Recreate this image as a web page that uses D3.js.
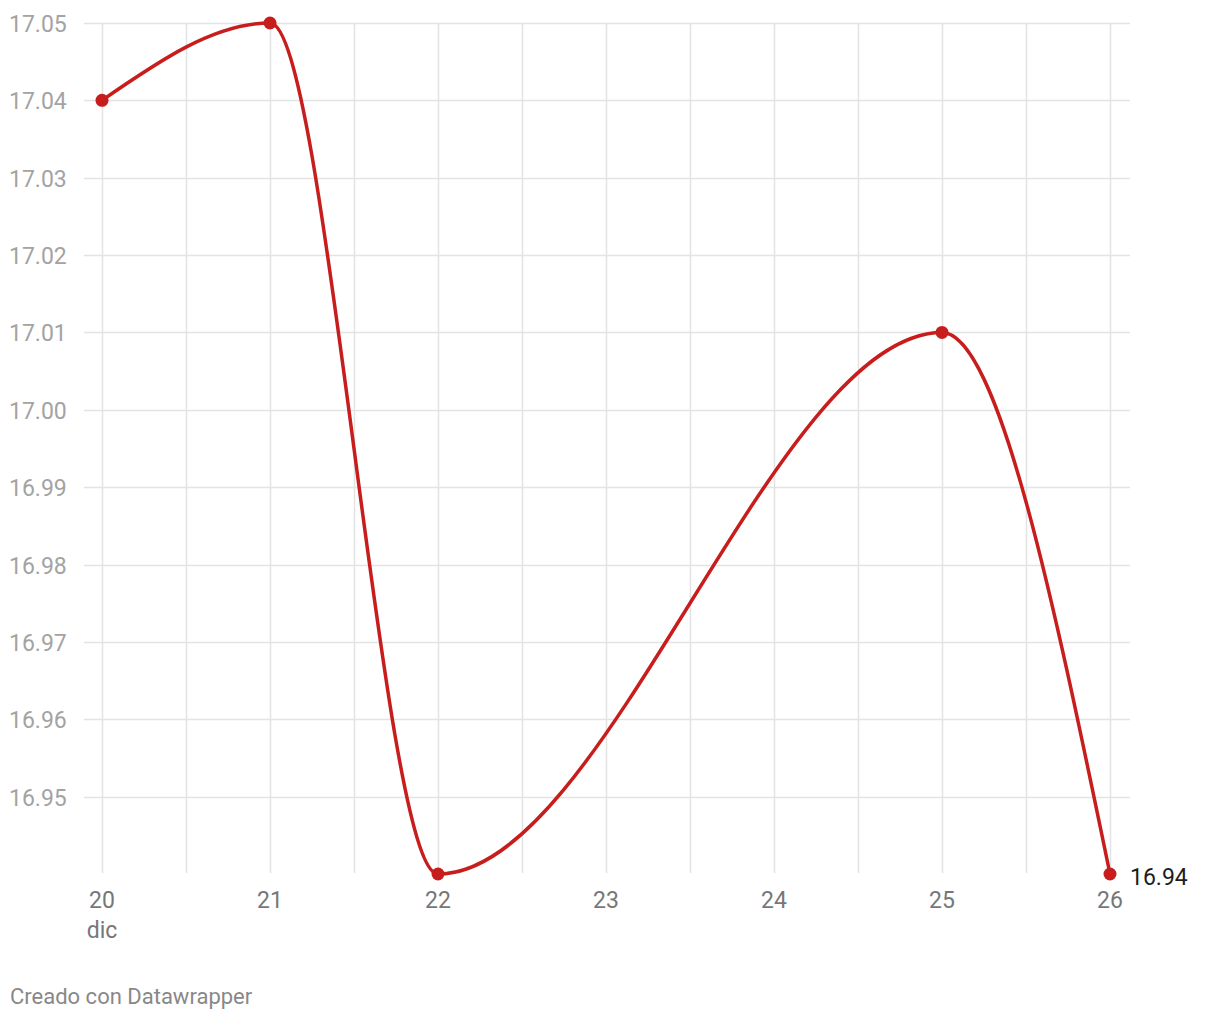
<!DOCTYPE html>
<html><head><meta charset="utf-8">
<script src="https://cdn.jsdelivr.net/npm/d3@7"></script>
<style>
html,body{margin:0;padding:0;background:#fff;}
svg{display:block;font-family:Roboto,"Noto Sans",sans-serif;}
</style></head>
<body><svg id="chart" width="1220" height="1020"></svg>
<script>
const days = [20, 21, 22, 25, 26];
const values = [17.04, 17.05, 16.94, 17.01, 16.94];
const xTickDays = [20, 21, 22, 23, 24, 25, 26];
const xGridDays = [20, 20.5, 21, 21.5, 22, 22.5, 23, 23.5, 24, 24.5, 25, 25.5, 26];
const yTicks = [16.95, 16.96, 16.97, 16.98, 16.99, 17.00, 17.01, 17.02, 17.03, 17.04, 17.05];
const monthLabel = "dic";
const lastLabel = "16.94";
const credit = "Creado con Datawrapper";

const svg = d3.select("#chart");
const x = d3.scaleLinear().domain([20, 26]).range([102, 1110]);
const y = d3.scaleLinear().domain([16.94, 17.05]).range([874, 23]);
const red = "#c71e1d";
const fs = 23;

// horizontal grid
svg.append("g").selectAll("line").data(yTicks).join("line")
  .attr("x1", 84).attr("x2", 1130)
  .attr("y1", d => Math.round(y(d)) + 0.5).attr("y2", d => Math.round(y(d)) + 0.5)
  .attr("stroke", "#e3e3e3").attr("stroke-width", 1.5);
// vertical grid
svg.append("g").selectAll("line").data(xGridDays).join("line")
  .attr("x1", d => Math.round(x(d)) + 0.5).attr("x2", d => Math.round(x(d)) + 0.5)
  .attr("y1", y(17.05)).attr("y2", 873)
  .attr("stroke", "#e3e3e3").attr("stroke-width", 1.5);

// y labels
svg.append("g").selectAll("text").data(yTicks).join("text")
  .attr("x", 9).attr("y", d => y(d) + 9)
  .attr("fill", "#a3a3a3").attr("font-size", fs)
  .text(d => d.toFixed(2));

// x labels
svg.append("g").selectAll("text").data(xTickDays).join("text")
  .attr("x", d => x(d)).attr("y", 908).attr("text-anchor", "middle")
  .attr("fill", "#777").attr("font-size", fs)
  .text(d => d);
svg.append("text").attr("x", x(20)).attr("y", 938).attr("text-anchor", "middle")
  .attr("fill", "#777").attr("font-size", fs).text(monthLabel);

// line
const line = d3.line().x((d, i) => x(days[i])).y(d => y(d)).curve(d3.curveMonotoneX);
svg.append("path").attr("d", line(values)).attr("fill", "none")
  .attr("stroke", red).attr("stroke-width", 3.5);
svg.append("g").selectAll("circle").data(values).join("circle")
  .attr("cx", (d, i) => x(days[i])).attr("cy", d => y(d)).attr("r", 6.5).attr("fill", red);

// end label
svg.append("text").attr("x", x(26) + 20).attr("y", y(values[values.length - 1]) + 11)
  .attr("fill", "#1d1d1d").attr("font-size", fs).text(lastLabel);

// credit
svg.append("text").attr("x", 10).attr("y", 1004).attr("fill", "#888").attr("font-size", 22).text(credit);
</script></body></html>
